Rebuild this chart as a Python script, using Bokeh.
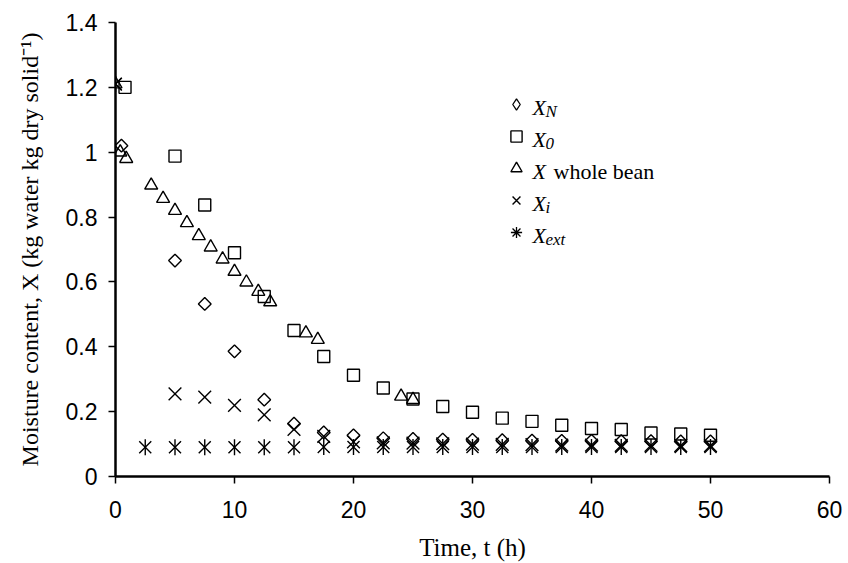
import math
from bokeh.plotting import figure
from bokeh.models import (FixedTicker, CustomJSTickFormatter, Legend, LegendItem, Label)
from bokeh.embed import file_html
from bokeh.resources import INLINE

# ---------------- data ----------------
t_N = [0.5, 5, 7.5, 10, 12.5, 15, 17.5, 20, 22.5, 25, 27.5, 30, 32.5, 35, 37.5, 40, 42.5, 45, 47.5, 50]
X_N = [1.02, 0.666, 0.532, 0.386, 0.237, 0.163, 0.136, 0.127, 0.118, 0.116, 0.114, 0.113,
       0.112, 0.111, 0.110, 0.110, 0.109, 0.109, 0.108, 0.108]

t_0 = [0.8, 5, 7.5, 10, 12.5, 15, 17.5, 20, 22.5, 25, 27.5, 30, 32.5, 35, 37.5, 40, 42.5, 45, 47.5, 50]
X_0 = [1.20, 0.988, 0.837, 0.69, 0.555, 0.45, 0.37, 0.312, 0.273, 0.239, 0.216, 0.198,
       0.18, 0.17, 0.158, 0.148, 0.145, 0.134, 0.131, 0.127]

t_W = [0, 0.4, 0.9, 3, 4, 5, 6, 7, 8, 9, 10, 11, 12, 13, 16, 17, 24, 25]
X_W = [1.21, 1.0, 0.98, 0.898, 0.857, 0.82, 0.782, 0.742, 0.707, 0.67, 0.632, 0.599,
       0.57, 0.538, 0.442, 0.422, 0.247, 0.237]

t_i = [0, 5, 7.5, 10, 12.5, 15, 17.5, 20, 22.5, 25, 27.5, 30, 32.5, 35, 37.5, 40, 42.5, 45, 47.5, 50]
X_i = [1.21, 0.255, 0.245, 0.219, 0.19, 0.145, 0.124, 0.107, 0.104, 0.103, 0.101, 0.100,
       0.099, 0.098, 0.097, 0.097, 0.096, 0.096, 0.095, 0.095]

t_ext = [0, 2.5, 5, 7.5, 10, 12.5, 15, 17.5, 20, 22.5, 25, 27.5, 30, 32.5, 35, 37.5, 40, 42.5, 45, 47.5, 50]
X_ext = [1.21, 0.09, 0.09, 0.09, 0.09, 0.09, 0.09, 0.091, 0.091, 0.091, 0.091, 0.091, 0.091,
         0.091, 0.091, 0.091, 0.091, 0.091, 0.091, 0.091, 0.091]

x_ticks = [0, 10, 20, 30, 40, 50, 60]
y_ticks = [0, 0.2, 0.4, 0.6, 0.8, 1.0, 1.2, 1.4]

# ---------------- figure ----------------
p = figure(width=848, height=563, output_backend="svg", toolbar_location=None,
           x_range=(0, 60), y_range=(0, 1.4),
           min_border_left=115, min_border_right=19, min_border_top=22, min_border_bottom=86)
p.outline_line_color = None
p.background_fill_color = "white"
p.border_fill_color = "white"
p.xgrid.visible = False
p.ygrid.visible = False

for ax in (p.xaxis[0], p.yaxis[0]):
    ax.axis_line_width = 2.5
    ax.axis_line_color = "black"
    ax.major_tick_line_width = 1.5
    ax.major_tick_line_color = "black"
    ax.major_tick_out = 7
    ax.major_tick_in = 0
    ax.minor_tick_line_color = None
    ax.major_label_text_font = "Liberation Sans"
    ax.major_label_text_font_size = "23px"
    ax.major_label_text_color = "black"
    ax.axis_label_text_font = "Liberation Serif"
    ax.axis_label_text_font_style = "normal"
    ax.axis_label_text_color = "black"

p.xaxis.axis_label_text_font_size = "25px"
p.yaxis.axis_label_text_font_size = "24px"
p.xaxis.ticker = FixedTicker(ticks=x_ticks)
p.yaxis.ticker = FixedTicker(ticks=y_ticks)
p.yaxis.formatter = CustomJSTickFormatter(code="return String(Math.round(tick*10)/10)")
p.xaxis.major_label_standoff = 17
p.yaxis.major_label_standoff = 11
p.xaxis.axis_label = "Time, t (h)"
p.yaxis.axis_label = "Moisture content, X (kg water kg dry solid\u207b\u00b9)"
p.xaxis.axis_label_standoff = 13
p.yaxis.axis_label_standoff = 20

lw = 1.4
r_N = p.scatter(t_N, X_N, marker="square", angle=math.pi / 4, size=9, line_color="black",
                fill_color=None, line_width=lw)
r_0 = p.scatter(t_0, X_0, marker="square", size=12, line_color="black",
                fill_color=None, line_width=lw)
r_W = p.scatter(t_W, X_W, marker="triangle", size=13, line_color="black",
                fill_color=None, line_width=lw)
r_i = p.scatter(t_i, X_i, marker="x", size=18, line_color="black", line_width=lw)
r_e1 = p.scatter(t_ext, X_ext, marker="x", size=17, line_color="black", line_width=lw)
r_e2 = p.scatter(t_ext, X_ext, marker="dash", angle=math.pi / 2, size=16,
                 line_color="black", line_width=lw)

# legend keys: hidden renderers of the same series, used only for the legend symbol
k_N = p.scatter(t_N, X_N, marker="diamond", line_color="black", fill_color=None,
                line_width=1.3, visible=False)
k_e = p.scatter(t_ext, X_ext, marker="asterisk", line_color="black", line_width=1.3,
                visible=False)

legend = Legend(items=[LegendItem(label=" ", renderers=[k_N]),
                       LegendItem(label=" ", renderers=[r_0]),
                       LegendItem(label=" ", renderers=[r_W]),
                       LegendItem(label=" ", renderers=[r_i]),
                       LegendItem(label=" ", renderers=[k_e])],
                location=(387, 230), glyph_width=28, glyph_height=28, label_height=28,
                spacing=4, padding=0, margin=0, label_standoff=0, label_width=10,
                background_fill_alpha=0, border_line_alpha=0,
                inactive_fill_alpha=0, click_policy="none",
                label_text_font_size="10px")
p.add_layout(legend, "center")

# legend texts (screen units, relative to frame bottom-left)
frame_left_px = 115
frame_bottom_px = 477
row_centers = [103, 135, 167, 199, 231]
main_x = 532
sub_x = 545

def sx(px):
    return px - frame_left_px

def sy(py):
    return frame_bottom_px - py

subs = ["N", "0", None, "i", "ext"]
for k, yc in enumerate(row_centers):
    base = yc + 5
    p.add_layout(Label(x=sx(main_x), y=sy(base), x_units="screen", y_units="screen",
                       text="X", text_font="Liberation Serif", text_font_size="22px",
                       text_font_style="italic", text_baseline="alphabetic", text_color="black"))
    if subs[k] is not None:
        p.add_layout(Label(x=sx(sub_x), y=sy(base + 4), x_units="screen", y_units="screen",
                           text=subs[k], text_font="Liberation Serif", text_font_size="17px",
                           text_font_style="italic", text_baseline="alphabetic",
                           text_color="black"))
    else:
        p.add_layout(Label(x=sx(553), y=sy(base), x_units="screen", y_units="screen",
                           text="whole bean", text_font="Liberation Serif",
                           text_font_size="22px", text_baseline="alphabetic",
                           text_color="black"))

open("out.html", "w").write(file_html(p, INLINE))
